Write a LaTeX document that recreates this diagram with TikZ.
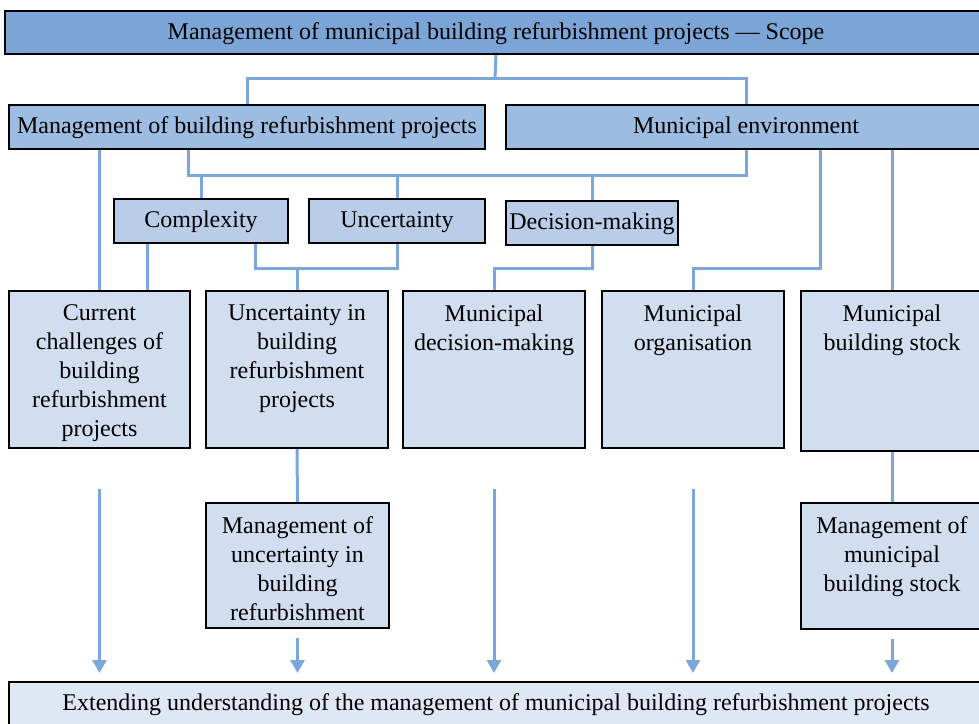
\documentclass[tikz,border=0pt]{standalone}
\usepackage{fontspec}
\setmainfont{Liberation Serif}
\usetikzlibrary{arrows.meta}
\definecolor{scopeblue}{RGB}{123,165,215}
\definecolor{areablue}{RGB}{157,188,226}
\definecolor{themeblue}{RGB}{185,205,233}
\definecolor{topicblue}{RGB}{209,222,240}
\definecolor{resultblue}{RGB}{222,231,244}
\definecolor{linkblue}{RGB}{125,167,219}
\newcommand{\cell}[3]{\parbox[t][#2][t]{#1}{\centering\vspace*{7pt}#3}}
\begin{document}
\begin{tikzpicture}[x=0.5pt, y=-0.5pt,
    every node/.style={font=\fontsize{12}{14.5}\selectfont, inner sep=0pt, anchor=north west},
    box/.style={draw=black, line width=1pt, rectangle},
    line/.style={box, text height=9pt, text depth=2.5pt},
    link/.style={draw=linkblue, line width=1.5pt},
    arrow/.style={link, -{Triangle[width=7pt,length=6.5pt]}, shorten >=4pt}]
  \useasboundingbox (0,0) rectangle (979,723);
  \clip (0,0) rectangle (979,723);
  % scope and the two areas
  \node[line, fill=scopeblue, minimum width=491pt, minimum height=21.5pt] (scope) at (4,10) {Management of municipal building refurbishment projects — Scope};
  \node[line, fill=areablue, minimum width=238pt, minimum height=22pt] (mbrp) at (8,104) {Management of building refurbishment projects};
  \node[line, fill=areablue, minimum width=240pt, minimum height=22pt] (menv) at (505,104) {Municipal environment};
  % themes
  \node[line, fill=themeblue, minimum width=87pt, minimum height=22pt] (cmpx) at (113,198) {Complexity};
  \node[line, fill=themeblue, minimum width=88pt, minimum height=22pt] (unc) at (308,198) {Uncertainty};
  \node[line, fill=themeblue, minimum width=86pt, minimum height=22pt] (dec) at (505,200) {Decision-making};
  % topics
  \node[box, fill=topicblue] (chal) at (8,290) {\cell{90.5pt}{78.5pt}{Current\\challenges of\\building\\refurbishment\\projects}};
  \node[box, fill=topicblue] (ubrp) at (205,290) {\cell{91pt}{78.5pt}{Uncertainty in\\building\\refurbishment\\projects}};
  \node[box, fill=topicblue] (mdec) at (402,290) {\cell{91pt}{78.5pt}{Municipal\\decision-making}};
  \node[box, fill=topicblue] (morg) at (601,290) {\cell{91pt}{78.5pt}{Municipal\\organisation}};
  \node[box, fill=topicblue] (mstock) at (800,290) {\cell{91pt}{80pt}{Municipal\\building stock}};
  % management topics
  \node[box, fill=topicblue] (munc) at (205,502) {\cell{91.5pt}{62.5pt}{Management of\\uncertainty in\\building\\refurbishment}};
  \node[box, fill=topicblue] (mmstock) at (800,502) {\cell{91pt}{63pt}{Management of\\municipal\\building stock}};
  % result
  \node[line, fill=resultblue, minimum width=487pt, minimum height=22pt] (ext) at (8,681) {Extending understanding of the management of municipal building refurbishment projects};
  % bus lines
  \coordinate (bus0) at (495,78);
  \coordinate (bus1) at (188,175);
  \coordinate (bus2) at (255,268);
  \coordinate (cx1) at (147,0);
  \coordinate (cx2) at (820,0);
  \draw[link] (scope.south) -- (bus0);
  \draw[link] (bus0) -| (mbrp.north);
  \draw[link] (bus0) -| (menv.north);
  \draw[link] (chal.north) -- (chal.north |- mbrp.south);
  \draw[link] (mbrp.south -| bus1) |- (bus1 -| menv.south) -- (menv.south);
  \foreach \n in {cmpx,unc,dec}
    \draw[link] (\n.north) -- (\n.north |- bus1);
  \draw[link] (cmpx.south -| cx1) -- (chal.north -| cx1);
  \draw[link] (cmpx.south -| bus2) |- (unc.south |- bus2) -- (unc.south);
  \draw[link] (ubrp.north) -- (ubrp.north |- bus2);
  \draw[link] (dec.south) |- (mdec.north |- bus2) -- (mdec.north);
  \draw[link] (menv.south -| cx2) |- (morg.north |- bus2) -- (morg.north);
  \draw[link] (mstock.north) -- (mstock.north |- menv.south);
  \draw[link] (ubrp.south) -- (munc.north);
  \draw[link] (mstock.south) -- (mmstock.north);
  % arrows to the result
  \foreach \n in {chal,mdec,morg}
    \draw[arrow, shorten <=20pt] (\n.south) -- (\n.south |- ext.north);
  \foreach \n in {munc,mmstock}
    \draw[arrow, shorten <=4.5pt] (\n.south) -- (\n.south |- ext.north);
\end{tikzpicture}
\end{document}
